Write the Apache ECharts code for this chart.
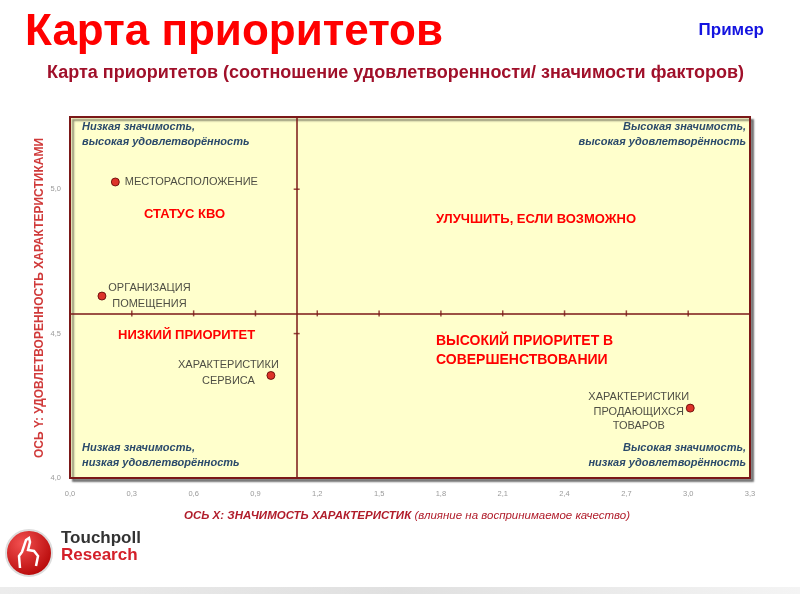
<!DOCTYPE html>
<html><head><meta charset="utf-8">
<script src="https://cdn.jsdelivr.net/npm/echarts@6.0.0/dist/echarts.min.js"></script>
<style>html,body{margin:0;padding:0;background:#fff}#c{width:800px;height:600px}</style>
</head><body><div id="c"></div>
<script>
// ---- data ----
const factorNames = ['МЕСТОРАСПОЛОЖЕНИЕ', 'ОРГАНИЗАЦИЯ\nПОМЕЩЕНИЯ', 'ХАРАКТЕРИСТИКИ\nСЕРВИСА', 'ХАРАКТЕРИСТИКИ\nПРОДАЮЩИХСЯ\nТОВАРОВ'];
const importance = [0.22, 0.155, 0.975, 3.01];      // X: значимость
const satisfaction = [5.025, 4.63, 4.355, 4.242];    // Y: удовлетворённость
const xDivider = 1.1;
const yDivider = 4.57;
const xTickValues = [0.3, 0.6, 0.9, 1.2, 1.5, 1.8, 2.1, 2.4, 2.7, 3.0];
const yTickValues = [4.5, 5.0];
const quadrantTitles = ['СТАТУС КВО', 'УЛУЧШИТЬ, ЕСЛИ ВОЗМОЖНО', 'НИЗКИЙ ПРИОРИТЕТ', 'ВЫСОКИЙ ПРИОРИТЕТ В\nСОВЕРШЕНСТВОВАНИИ'];
const cornerTexts = ['Низкая значимость,\nвысокая удовлетворённость', 'Высокая значимость,\nвысокая удовлетворённость',
                     'Низкая значимость,\nнизкая удовлетворённость', 'Высокая значимость,\nнизкая удовлетворённость'];

// ---- layout ----
const G = {left: 70, top: 117, right: 750, bottom: 478};
const chart = echarts.init(document.getElementById('c'));

const labelStyles = [
  {position: 'right', distance: 5, align: 'left'},
  {position: [52, 4], align: 'center', verticalAlign: 'middle', lineHeight: 16},
  {position: [-38, 2], align: 'center', verticalAlign: 'middle', lineHeight: 16},
  {position: [-47, 8], align: 'center', verticalAlign: 'middle', lineHeight: 14.5}
];

const points = importance.map((x, i) => ({
  value: [x, satisfaction[i]],
  name: factorNames[i],
  label: Object.assign({show: true, formatter: '{b}', color: '#222', fontSize: 11, fontFamily: 'Liberation Sans'}, labelStyles[i])
}));

const comma = v => v.toFixed(1).replace('.', ',');
const cornerStyle = {fill: '#2b4a6b', font: 'italic bold 11px "Liberation Sans"', lineHeight: 15};
const redStyle = {fill: '#ff0000', font: 'bold 13px "Liberation Sans"'};

chart.setOption({
  animation: false,
  grid: {left: G.left, top: G.top, width: G.right - G.left, height: G.bottom - G.top,
    show: true, backgroundColor: '#ffffcc', borderColor: '#7b1818', borderWidth: 2,
    shadowColor: 'rgba(0,0,0,0.45)', shadowBlur: 2, shadowOffsetX: 3, shadowOffsetY: 3},
  xAxis: {type: 'value', min: 0, max: 3.3, interval: 0.3,
    axisLine: {show: false}, axisTick: {show: false}, splitLine: {show: false},
    axisLabel: {color: '#9a9a9a', fontSize: 7.5, margin: 12, formatter: comma, showMaxLabel: true}},
  yAxis: {type: 'value', min: 4.0, max: 5.25, interval: 0.5,
    axisLine: {show: false}, axisTick: {show: false}, splitLine: {show: false},
    axisLabel: {color: '#9a9a9a', fontSize: 7.5, margin: 9, formatter: comma, showMaxLabel: false}},
  series: [
    {type: 'scatter', symbol: 'circle', symbolSize: 8, data: points,
      itemStyle: {color: '#d40000', borderColor: '#5a0000', borderWidth: 1}, z: 5,
      markLine: {silent: true, symbol: 'none', label: {show: false},
        lineStyle: {color: '#7b1818', width: 1.5, type: 'solid'},
        data: [{xAxis: xDivider}, {yAxis: yDivider}]}},
    {type: 'scatter', symbol: 'rect', symbolSize: [1.5, 6], silent: true,
      itemStyle: {color: '#7b1818'}, data: xTickValues.map(v => [v, yDivider])},
    {type: 'scatter', symbol: 'rect', symbolSize: [6, 1.5], silent: true,
      itemStyle: {color: '#7b1818'}, data: yTickValues.map(v => [xDivider, v])}
  ],
  graphic: [
    {type: 'text', left: 25, top: 11, style: {text: 'Карта приоритетов', fill: '#ff0000', font: 'bold 44px "Liberation Sans"'}},
    {type: 'text', right: 36, top: 22, style: {text: 'Пример', fill: '#1414e0', font: 'bold 17px "Liberation Sans"'}},
    {type: 'text', left: 47, top: 64, style: {text: 'Карта приоритетов (соотношение удовлетворенности/ значимости факторов)', fill: '#a0102a', font: 'bold 18px "Liberation Sans"'}},
    // axis names
    {type: 'text', x: 40, y: 298, rotation: Math.PI / 2, style: {text: 'ОСЬ Y: УДОВЛЕТВОРЕННОСТЬ ХАРАКТЕРИСТИКАМИ', fill: '#d03a3a', font: 'bold 12px "Liberation Sans"', align: 'center', verticalAlign: 'middle'}},
    {type: 'text', x: 407, y: 516, style: {text: '{a|ОСЬ X: ЗНАЧИМОСТЬ ХАРАКТЕРИСТИК} {b|(влияние на воспринимаемое качество)}', align: 'center', verticalAlign: 'middle',
      rich: {a: {fill: '#b01c2a', font: 'italic bold 11.5px "Liberation Sans"'}, b: {fill: '#b01c2a', font: 'italic 11.5px "Liberation Sans"'}}}},
    // corner texts
    {type: 'text', x: 82, y: 119, style: Object.assign({text: cornerTexts[0], align: 'left'}, cornerStyle)},
    {type: 'text', x: 746, y: 119, style: Object.assign({text: cornerTexts[1], align: 'right'}, cornerStyle)},
    {type: 'text', x: 82, y: 440, style: Object.assign({text: cornerTexts[2], align: 'left'}, cornerStyle)},
    {type: 'text', x: 746, y: 440, style: Object.assign({text: cornerTexts[3], align: 'right'}, cornerStyle)},
    // quadrant titles
    {type: 'text', x: 144, y: 208, style: Object.assign({text: quadrantTitles[0]}, redStyle)},
    {type: 'text', x: 436, y: 213, style: Object.assign({text: quadrantTitles[1]}, redStyle)},
    {type: 'text', x: 118, y: 329, style: Object.assign({text: quadrantTitles[2]}, redStyle)},
    {type: 'text', x: 436, y: 332, style: {text: quadrantTitles[3], fill: '#ff0000', font: 'bold 14px "Liberation Sans"', lineHeight: 19}},
    // logo
    {type: 'circle', shape: {cx: 29, cy: 553, r: 23}, style: {fill: new echarts.graphic.RadialGradient(0.35, 0.3, 0.8, [{offset: 0, color: '#f25050'}, {offset: 1, color: '#b00000'}]), stroke: '#ddd', lineWidth: 2}},
    {type: 'polyline', shape: {points: [[20, 568], [19, 556], [22, 552], [26, 540], [29, 538], [30, 542], [28, 550], [34, 551], [38, 556], [36, 566]]}, style: {stroke: '#fff', lineWidth: 2.5, fill: 'none'}},
    {type: 'text', x: 61, y: 530, style: {text: 'Touchpoll', fill: '#333', font: 'bold 17px "Liberation Sans"'}},
    {type: 'text', x: 61, y: 547, style: {text: 'Research', fill: '#d4202a', font: 'bold 17px "Liberation Sans"'}},
    {type: 'rect', shape: {x: 0, y: 587, width: 800, height: 7}, style: {fill: new echarts.graphic.LinearGradient(0, 0, 1, 0, [{offset: 0, color: '#ececec'}, {offset: 0.5, color: '#e0e0e0'}, {offset: 1, color: '#f4f4f4'}])}}
  ]
});
</script></body></html>
